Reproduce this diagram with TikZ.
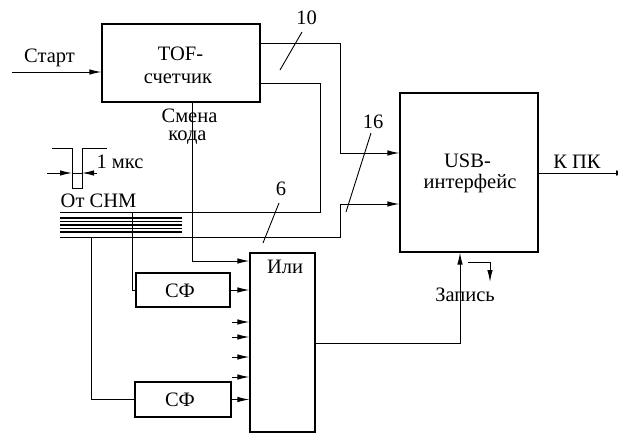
\documentclass[tikz,border=0pt]{standalone}
\usepackage{fontspec}
\setmainfont{Liberation Serif}
\newfontfamily\dgfont{Liberation Serif}
\usetikzlibrary{arrows.meta}
\begin{document}
\begin{tikzpicture}[x=1pt,y=-1pt,
  line width=1pt,
  arr/.style={-{Latex[length=12pt,width=5.5pt]}},
  blk/.style={draw,line width=1.1pt,minimum width=#1,inner sep=0pt},
  lbl/.style={anchor=base,inner sep=0pt,font=\dgfont\fontsize{20.5}{22}\selectfont},
  tick/.style={line width=0.9pt}]
\useasboundingbox (0,0) rectangle (618,434);
% blocks
\node[blk=158pt,minimum height=78pt] (tof) at (181,63) {};
\node[blk=138pt,minimum height=159pt] (usb) at (469,172.5) {};
\node[blk=65pt,minimum height=179pt] (ili) at (282.5,342.5) {};
\node[blk=94pt,minimum height=34pt] (sf1) at (183,290) {};
\node[blk=96pt,minimum height=35pt] (sf2) at (183,399.5) {};
% texts
\node[lbl] (tTOF) at (180.5,60) {TOF-};
\node[lbl] (tcnt) at (178,83) {счетчик};
\node[lbl] (tusb) at (467.5,167) {USB-};
\node[lbl] (tint) at (470,188) {интерфейс};
\node[lbl] (tili) at (285,273) {Или};
\node[lbl] (tsf1) at (180,297) {СФ};
\node[lbl] (tsf2) at (180,406) {СФ};
\node[lbl] (tstart) at (49.5,62) {Старт};
\node[lbl] (tsm) at (189.5,122) {Смена};
\node[lbl] (tkod) at (187.5,140) {кода};
\node[lbl] (tmks) at (120,168) {1 мкс};
\node[lbl] (tcnm) at (98.5,207) {От СНМ};
\node[lbl] (t10) at (306.5,24) {10};
\node[lbl] (t16) at (373,128) {16};
\node[lbl] (t6) at (281,195) {6};
\node[lbl] (tkpk) at (577,168) {К ПК};
\node[lbl] (tzap) at (465,301) {Запись};
% start
\coordinate (st) at (12,72);
\draw[arr] (st) -- (st -| tof.west);
% TOF output 1 (10 lines)
\coordinate (b1) at (340,43);
\coordinate (b2) at (340,153);
\draw[arr] (b1 -| tof.east) -- (b1) -- (b2) -- (b2 -| usb.west);
% TOF output 2 loop into bus top line
\coordinate (c1) at (320,83);
\coordinate (c2) at (320,212);
\coordinate (c3) at (60,212);
\draw (c1 -| tof.east) -- (c1) -- (c2) -- (c3);
% bus inner lines
\foreach \yy in {218,221.5,225,228.5,232}
  \draw[line width=1.3pt] (60,\yy) -- (182,\yy);
% bus bottom line to USB (16)
\coordinate (d1) at (60,237);
\coordinate (d2) at (340,237);
\coordinate (d3) at (340,204);
\draw[arr] (d1) -- (d2) -- (d3) -- (d3 -| usb.west);
% Smena koda
\coordinate (sk) at (192,261);
\draw[arr] (sk |- tof.south) -- (sk) -- (sk -| ili.west);
% branch to SF1
\coordinate (e1) at (132,212);
\draw (e1) -- (e1 |- sf1.west) -- (sf1.west);
\draw[arr] (sf1.east) -- (sf1.east -| ili.west);
% branch to SF2
\coordinate (f1) at (91,237);
\draw (f1) -- (f1 |- sf2.west) -- (sf2.west);
\draw[arr] (sf2.east) -- (sf2.east -| ili.west);
% free inputs
\foreach \yy/\nm in {322/g1,337/g2,357/g3,377/g4} {
  \coordinate (\nm) at (232,\yy);
  \draw[arr] (\nm) -- (\nm -| ili.west);
}
% OR output to USB (Zapis)
\coordinate (h1) at (460,343);
\draw[arr] (h1 -| ili.east) -- (h1) -- (h1 |- usb.south);
% Zapis small arrow
\coordinate (z1) at (468,262);
\coordinate (z2) at (490,262);
\coordinate (z3) at (490,282);
\draw[arr] (z1) -- (z2) -- (z3);
% to PC
\coordinate (pc) at (628,173);
\draw[arr] (pc -| usb.east) -- (pc);
% ticks
\draw[tick] (302,32) -- (280,70);
\draw[tick] (371,133) -- (346,212);
\draw[tick] (279,203) -- (263,243);
% pulse
\draw (52,148) -- (72,148) -- (72,188) -- (82,188) -- (82,148) -- (107,148);
\coordinate (p1) at (47,173);
\coordinate (p2) at (72,173);
\coordinate (p3) at (82,173);
\coordinate (p4) at (97,173);
\draw[arr] (p1) -- (p2);
\draw (p2) -- (p3);
\draw[arr] (p4) -- (p3);
\end{tikzpicture}
\end{document}
